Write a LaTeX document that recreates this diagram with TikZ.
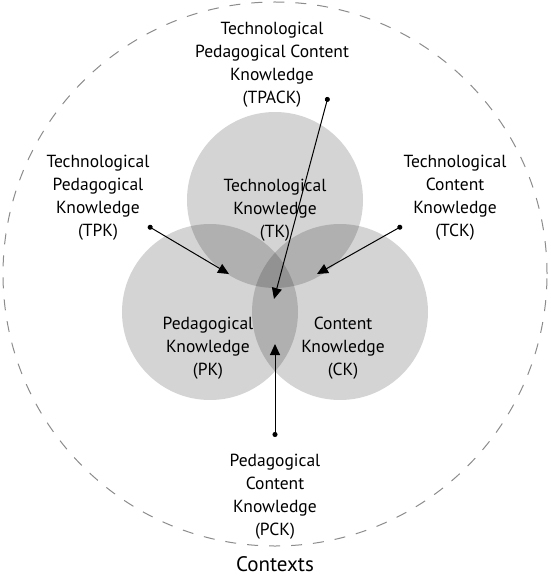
\documentclass[tikz,border=0pt]{standalone}
\usepackage{fontspec}
\setmainfont{PT Sans}
\usetikzlibrary{positioning, arrows, arrows.meta}

\begin{document}
\begin{tikzpicture}[x=1pt,y=-1pt,>={Triangle[length=11pt,width=10pt]},on grid,font=\fontsize{17.5}{23}\selectfont]
\tikzstyle{know}=[circle,minimum size=176pt,inner sep=0pt,fill=black,fill opacity=0.17]
\tikzstyle{lbl}=[align=center,inner sep=0pt]
\tikzstyle{pointer}=[{Circle[length=5pt]}->,line width=1pt]

\useasboundingbox (0,0) rectangle (550,577);

%--- contexts ---
\node[circle,draw=black!45,dash pattern=on 11pt off 11pt,line width=1pt,minimum size=544pt,inner sep=0pt] (ctx) at (275,274) {};
\node[font=\fontsize{21}{25}\selectfont,inner sep=0pt,anchor=base] (ctxl) at (275,571) {Contexts};

%--- circles ---
\node[know] (tk) at (275,200) {};
\node[know] (pk) [below left=112pt and 65pt of tk] {};
\node[know] (ck) [below right=112pt and 65pt of tk] {};

%--- labels ---
\node[lbl] (tkl) at (275,210) {Technological\\Knowledge\\(TK)};
\node[lbl] (pkl) at (208,348) {Pedagogical\\Knowledge\\(PK)};
\node[lbl] (ckl) at (343,348) {Content\\Knowledge\\(CK)};
\node[lbl] (tpackl) at (272,65) {Technological\\Pedagogical Content\\Knowledge\\(TPACK)};
\node[lbl] (tpkl) at (98,198) {Technological\\Pedagogical\\Knowledge\\(TPK)};
\node[lbl] (tckl) at (455,198) {Technological\\Content\\Knowledge\\(TCK)};
\node[lbl] (pckl) at (275,497) {Pedagogical\\Content\\Knowledge\\(PCK)};

%--- pointers ---
\coordinate (tpackdot) at (328,97);
\coordinate (tpackend) at (274,299);
\coordinate (tpkdot) at (148,226);
\coordinate (tpkend) at (229,274);
\coordinate (tckdot) at (402,226);
\coordinate (tckend) at (317,274);
\coordinate (pckdot) at (275,437);
\coordinate (pckend) at (275,344);

\draw[pointer] (tpackdot) -- (tpackend);
\draw[pointer] (tpkdot) -- (tpkend);
\draw[pointer] (tckdot) -- (tckend);
\draw[pointer] (pckdot) -- (pckend);

\end{tikzpicture}
\end{document}
